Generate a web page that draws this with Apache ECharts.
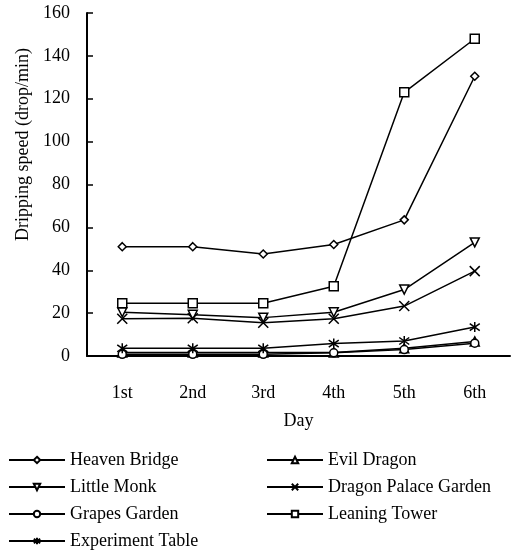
<!DOCTYPE html>
<html>
<head>
<meta charset="utf-8">
<script src="https://cdn.jsdelivr.net/npm/echarts@6/dist/echarts.min.js"></script>
<style>
  html, body { margin: 0; padding: 0; background: #fff; }
  #chart { width: 519px; height: 555px; }
</style>
</head>
<body>
<div id="chart"></div>
<script>
// Day categories and y-axis setup
const days = ['1st', '2nd', '3rd', '4th', '5th', '6th'];
const yMin = 0, yMax = 160, yStep = 20;

// Dripping speed (drop/min) per site
const heavenBridge      = [51, 51, 47.6, 52, 63.5, 130.5];
const evilDragon        = [1.6, 1.6, 1.6, 1.6, 3.6, 6.8];
const littleMonk        = [20.4, 19.2, 17.9, 20.4, 31, 53];
const dragonPalace      = [17.4, 17.6, 15.5, 17.4, 23.3, 39.6];
const grapesGarden      = [0.8, 0.8, 0.8, 1.5, 3, 6];
const leaningTower      = [24.6, 24.6, 24.6, 32.5, 123, 148];
const experimentTable   = [3.6, 3.6, 3.6, 5.8, 7, 13.5];

const FONT = 'Liberation Serif';
const CROSS = 'path://M0,0L10,10M10,0L0,10';
const STAR = 'path://M5,0L5,10M0,1.5L10,8.5M10,1.5L0,8.5';

function mkSeries(name, data, symbol, size, rotate) {
  return {
    name: name,
    type: 'line',
    data: data,
    symbol: symbol,
    symbolSize: size,
    symbolRotate: rotate || 0,
    showAllSymbol: true,
    animation: false,
    lineStyle: { color: '#000', width: 1.5 },
    itemStyle: { color: '#fff', borderColor: '#000', borderWidth: 1.5 },
    emphasis: { disabled: true }
  };
}

const chart = echarts.init(document.getElementById('chart'), null, { renderer: 'canvas' });

const legendCommon = {
  orient: 'vertical',
  top: 451,
  padding: 0,
  itemWidth: 56,
  itemHeight: 8,
  itemGap: 9,
  itemTextGap: 6,
  selectedMode: false,
  textStyle: { fontFamily: FONT, fontSize: 18, lineHeight: 18, color: '#000' }
};

chart.setOption({
  backgroundColor: '#fff',
  animation: false,
  grid: { left: 87, right: 9, top: 13, bottom: 199 },
  legend: [
    Object.assign({ left: 8, data: ['Heaven Bridge', 'Little Monk', 'Grapes Garden', 'Experiment Table'] }, legendCommon),
    Object.assign({ left: 266, data: ['Evil Dragon', 'Dragon Palace Garden', 'Leaning Tower'] }, legendCommon)
  ],
  xAxis: {
    type: 'category',
    data: days,
    boundaryGap: true,
    name: 'Day',
    nameLocation: 'middle',
    nameGap: 56,
    nameTextStyle: { fontFamily: FONT, fontSize: 18, color: '#000' },
    axisLine: { lineStyle: { color: '#000', width: 2 } },
    axisTick: { inside: true, length: 6, lineStyle: { color: '#000', width: 1.5 } },
    axisLabel: { margin: 28, fontFamily: FONT, fontSize: 18, color: '#000' },
    splitLine: { show: false }
  },
  yAxis: {
    type: 'value',
    min: yMin,
    max: yMax,
    interval: yStep,
    name: 'Dripping speed (drop/min)',
    nameLocation: 'middle',
    nameGap: 55,
    nameTextStyle: { fontFamily: FONT, fontSize: 18, color: '#000', padding: [0, 0, 0, 80] },
    axisLine: { show: true, lineStyle: { color: '#000', width: 2 } },
    axisTick: { show: true, inside: true, length: 6, lineStyle: { color: '#000', width: 1.5 } },
    axisLabel: { margin: 17, fontFamily: FONT, fontSize: 18, color: '#000' },
    splitLine: { show: false }
  },
  series: [
    mkSeries('Heaven Bridge', heavenBridge, 'diamond', 8),
    mkSeries('Evil Dragon', evilDragon, 'triangle', 9),
    mkSeries('Little Monk', littleMonk, 'triangle', 9, 180),
    mkSeries('Dragon Palace Garden', dragonPalace, CROSS, 10),
    mkSeries('Grapes Garden', grapesGarden, 'circle', 8),
    mkSeries('Leaning Tower', leaningTower, 'rect', 9),
    mkSeries('Experiment Table', experimentTable, STAR, 10)
  ]
});
</script>
</body>
</html>
